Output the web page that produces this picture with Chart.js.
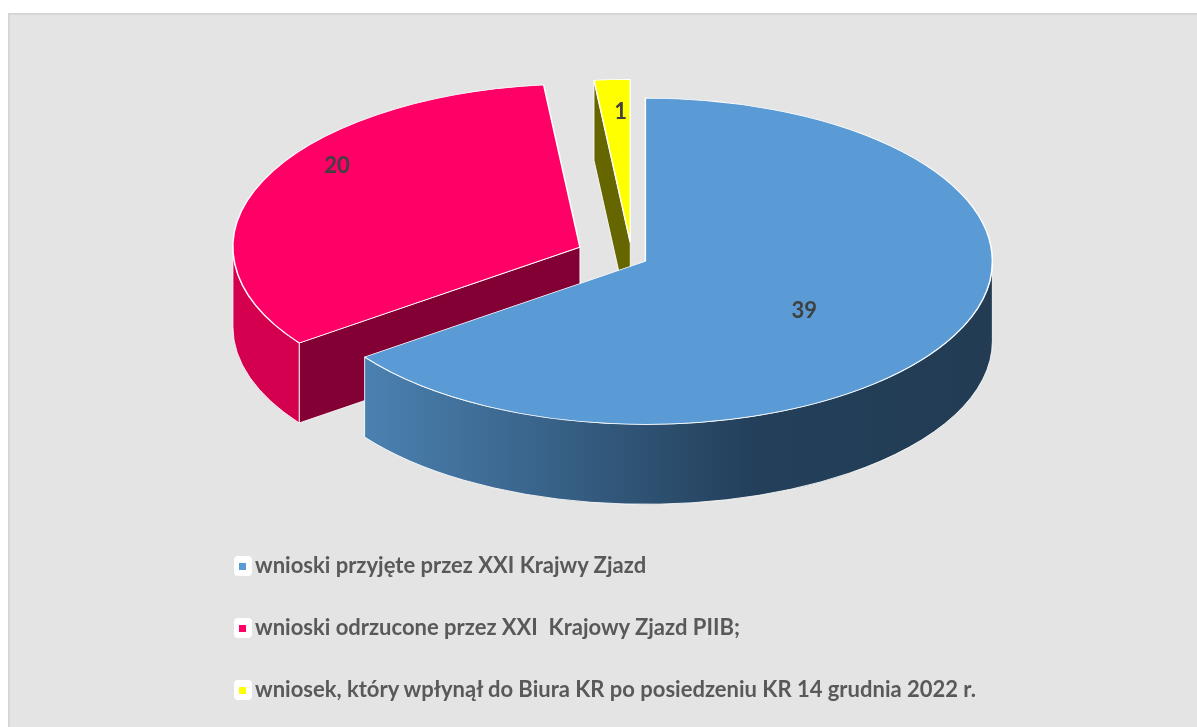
<!DOCTYPE html>
<html>
<head>
<meta charset="utf-8">
<script src="https://cdn.jsdelivr.net/npm/chart.js@4.4.0/dist/chart.umd.min.js"></script>
<style>
  html, body { margin: 0; padding: 0; background: #fff; }
  #panel {
    position: absolute; left: 8px; top: 13px; width: 1189px; height: 714px;
    background: #e4e4e4; border-left: 2px solid #d6d6d6; border-top: 2px solid #d6d6d6;
    box-sizing: border-box;
  }
  #chart { position: absolute; left: 0; top: 0; }
  .row { position: absolute; left: 234px; height: 20px; white-space: pre;
         font: bold 22px Lato, "Open Sans", sans-serif; color: #595959; line-height: 22px; }
  .box { position: absolute; left: 0; top: 0; width: 18px; height: 20px; background: #fff; border-radius: 4px; }
  .sw { position: absolute; left: 5px; top: 7px; width: 7px; height: 7px; }
  .txt { position: absolute; left: 21px; top: -2px; }
</style>
</head>
<body>
<div id="panel"></div>
<canvas id="chart" width="1197" height="727"></canvas>
<div id="legend"></div>
<script>
// data
const labels = [
  'wnioski przyjęte przez XXI Krajwy Zjazd',
  'wnioski odrzucone przez XXI  Krajowy Zjazd PIIB;',
  'wniosek, który wpłynął do Biura KR po posiedzeniu KR 14 grudnia 2022 r.'
];
const values = [39, 20, 1];

// colours
const topColors = ['#5b9bd5', '#ff0066', '#ffff00'];
const cutColors = ['#2f5878', '#820033', '#666600'];
const wallColors = [
  [[0, '#4b81b1'], [0.62, '#233f5a'], [1, '#233c54']],
  [[0, '#d4004f'], [1, '#d4004f']],
  [[0, '#999900'], [1, '#999900']]
];

// fake 3D: squash the pie vertically and extrude a side wall
const pie3d = {
  id: 'pie3d',
  beforeDatasetsDraw(chart, args, opts) {
    const ctx = chart.ctx;
    const meta = chart.getDatasetMeta(0);
    const cy = (chart.chartArea.top + chart.chartArea.bottom) / 2;
    const k = opts.tilt, D = opts.depth, Ys = opts.centerY;
    const centers = [];

    opts.order.forEach(i => {
      const arc = meta.data[i];
      const p = arc.getProps(['x', 'y', 'startAngle', 'endAngle', 'outerRadius'], true);
      const a0 = p.startAngle, a1 = p.endAngle, R = p.outerRadius;
      const mid = (a0 + a1) / 2;
      const e = opts.explode[i];
      const ex = Math.cos(mid) * e, ey = Math.sin(mid) * e;
      const sx = p.x + ex, sy = Ys + ey * k;
      centers[i] = { sx, sy, R, mid };

      ctx.save();
      ctx.strokeStyle = 'rgba(255,255,255,0.85)';
      ctx.lineWidth = 1;

      const face = (a) => {
        ctx.beginPath();
        ctx.moveTo(sx, sy);
        ctx.lineTo(sx + R * Math.cos(a), sy + R * k * Math.sin(a));
        ctx.lineTo(sx + R * Math.cos(a), sy + R * k * Math.sin(a) + D);
        ctx.lineTo(sx, sy + D);
        ctx.closePath();
        ctx.fillStyle = cutColors[i];
        ctx.fill();
        ctx.stroke();
      };
      if (Math.cos(a0) < -1e-6) face(a0);
      if (Math.cos(a1) > 1e-6) face(a1);

      // front part of the outer wall
      [-2 * Math.PI, 0, 2 * Math.PI].forEach(sh => {
        const t0 = Math.max(a0, sh), t1 = Math.min(a1, sh + Math.PI);
        if (t1 <= t0) return;
        const xl = sx + R * Math.min(Math.cos(t0), Math.cos(t1));
        const xr = sx + R * (t0 <= sh && t1 >= sh ? 1 : Math.max(Math.cos(t0), Math.cos(t1)));
        const g = ctx.createLinearGradient(Math.min(xl, xr - 1), 0, xr, 0);
        wallColors[i].forEach(s => g.addColorStop(s[0], s[1]));
        ctx.beginPath();
        ctx.ellipse(sx, sy, R, R * k, 0, t0, t1, false);
        ctx.ellipse(sx, sy + D, R, R * k, 0, t1, t0, true);
        ctx.closePath();
        ctx.fillStyle = g;
        ctx.fill();
        ctx.stroke();
      });
      ctx.restore();

      // top face drawn by the arc element itself
      ctx.save();
      ctx.translate(ex, Ys + ey * k);
      ctx.scale(1, k);
      ctx.translate(0, -cy);
      arc.draw(ctx);
      ctx.restore();
    });

    // value labels
    ctx.save();
    ctx.font = 'bold 22px Lato, "Open Sans", sans-serif';
    ctx.fillStyle = '#404040';
    ctx.textAlign = 'center';
    ctx.textBaseline = 'middle';
    values.forEach((v, i) => {
      const c = centers[i];
      const a = c.mid + opts.labelShift[i] * Math.PI / 180;
      const f = opts.labelFrac[i];
      ctx.fillText(String(v), c.sx + f * c.R * Math.cos(a), c.sy + f * c.R * k * Math.sin(a));
    });
    ctx.restore();
    return false;
  }
};

const chart = new Chart(document.getElementById('chart'), {
  type: 'pie',
  data: {
    labels: labels,
    datasets: [{
      data: values,
      backgroundColor: topColors,
      borderColor: '#ffffff',
      borderWidth: 1.5,
      radius: 347
    }]
  },
  options: {
    responsive: false,
    animation: false,
    layout: { padding: { left: 67, right: 0, top: 0, bottom: 0 } },
    plugins: {
      legend: { display: false },
      tooltip: { enabled: false },
      pie3d: {
        tilt: 0.47,
        depth: 80,
        centerY: 258,
        order: [2, 1, 0],
        explode: [15, 57, 33],
        labelFrac: [0.55, 0.86, 0.8],
        labelShift: [6.7, 11.5, 1]
      }
    }
  },
  plugins: [pie3d]
});

// legend rows from the chart data
const rowY = [556, 618, 680];
const legend = document.getElementById('legend');
chart.data.labels.forEach((lab, i) => {
  const row = document.createElement('div');
  row.className = 'row';
  row.style.top = rowY[i] + 'px';
  row.innerHTML = '<div class="box"><div class="sw" style="background:' +
    chart.data.datasets[0].backgroundColor[i] + '"></div></div><span class="txt"></span>';
  row.querySelector('.txt').textContent = lab;
  legend.appendChild(row);
});
</script>
</body>
</html>
